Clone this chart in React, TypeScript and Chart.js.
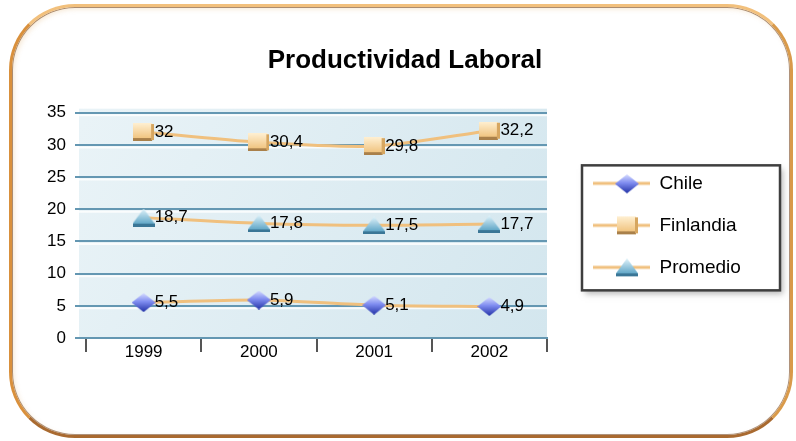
import React, { useEffect, useRef } from 'react';
import { Chart, registerables } from 'chart.js';

Chart.register(...registerables);

const years = ['1999', '2000', '2001', '2002'];
const chile = [5.5, 5.9, 5.1, 4.9];
const finlandia = [32, 30.4, 29.8, 32.2];
const promedio = [18.7, 17.8, 17.5, 17.7];
const seriesNames = ['Chile', 'Finlandia', 'Promedio'];
const chartTitle = 'Productividad Laboral';
const yMin = 0;
const yMax = 35;
const yStep = 5;

const LINE = '#f0c07e';
const GRID = '#6497b2';
const FONT = '"Liberation Sans", Arial, Helvetica, sans-serif';
const LEGEND_W = 239;

function makeCanvas(w: number, h: number) {
  const c = document.createElement('canvas');
  c.width = w;
  c.height = h;
  return c;
}

function makeDiamond() {
  const c = makeCanvas(24, 19);
  const ctx = c.getContext('2d')!;
  const g = ctx.createLinearGradient(0, 0, 0, 19);
  g.addColorStop(0, '#d6dcff');
  g.addColorStop(0.45, '#7f8cf0');
  g.addColorStop(1, '#2232a6');
  ctx.beginPath();
  ctx.moveTo(12, 0);
  ctx.lineTo(24, 9.5);
  ctx.lineTo(12, 19);
  ctx.lineTo(0, 9.5);
  ctx.closePath();
  ctx.fillStyle = g;
  ctx.fill();
  return c;
}

function makeCube() {
  const c = makeCanvas(21, 18);
  const ctx = c.getContext('2d')!;
  const g = ctx.createLinearGradient(0, 0, 0, 16);
  g.addColorStop(0, '#fff0d2');
  g.addColorStop(1, '#f0c27c');
  ctx.fillStyle = g;
  ctx.fillRect(0, 0, 19, 16);
  ctx.fillStyle = '#a9804a';
  ctx.fillRect(0, 15, 19, 3);
  ctx.fillStyle = '#d6a660';
  ctx.fillRect(18, 1, 3, 16);
  return c;
}

function makeTriangle() {
  const c = makeCanvas(22, 18);
  const ctx = c.getContext('2d')!;
  const g = ctx.createLinearGradient(0, 0, 0, 15);
  g.addColorStop(0, '#e2f4fb');
  g.addColorStop(1, '#62a8c8');
  ctx.beginPath();
  ctx.moveTo(11, 0);
  ctx.lineTo(22, 15);
  ctx.lineTo(0, 15);
  ctx.closePath();
  ctx.fillStyle = g;
  ctx.fill();
  ctx.fillStyle = '#3a7696';
  ctx.fillRect(0, 15, 22, 3);
  return c;
}

function makeLegendSample(marker: HTMLCanvasElement) {
  const c = makeCanvas(80, 22);
  const ctx = c.getContext('2d')!;
  ctx.strokeStyle = LINE;
  ctx.lineWidth = 3;
  ctx.beginPath();
  ctx.moveTo(23, 11);
  ctx.lineTo(80, 11);
  ctx.stroke();
  ctx.drawImage(marker, Math.round(57 - marker.width / 2), Math.round(11 - marker.height / 2));
  return c;
}

const fmt = (v: number) => String(v).replace('.', ',');

export default function App() {
  const ref = useRef<HTMLCanvasElement | null>(null);

  useEffect(() => {
    if (!ref.current) return;
    Chart.defaults.font.family = FONT;

    const markers = [makeDiamond(), makeCube(), makeTriangle()];
    const legendImgs = markers.map(makeLegendSample);
    const seriesData = [chile, finlandia, promedio];

    const fixLegend = {
      id: 'fixLegend',
      afterInit(chart: any) {
        const lg = chart.legend;
        if (!lg) return;
        const orig = lg.fit.bind(lg);
        lg.fit = () => {
          orig();
          lg.width = LEGEND_W;
        };
      },
    };

    const background = {
      id: 'background',
      beforeDraw(chart: any) {
        const { ctx, chartArea } = chart;
        const { left, top, right, bottom } = chartArea;
        ctx.save();
        const g = ctx.createLinearGradient(left, top, right, bottom);
        g.addColorStop(0, '#e9f3f7');
        g.addColorStop(1, '#d3e6ee');
        ctx.fillStyle = g;
        ctx.fillRect(left - 7, top - 4, right - left + 7, bottom - top + 4);
        // light highlights below gridlines
        const ys = chart.scales.y;
        ctx.strokeStyle = 'rgba(255,255,255,0.8)';
        ctx.lineWidth = 2;
        ys.ticks.forEach((t: any) => {
          const py = ys.getPixelForValue(t.value) + 2.5;
          if (py < bottom) {
            ctx.beginPath();
            ctx.moveTo(left - 7, py);
            ctx.lineTo(right, py);
            ctx.stroke();
          }
        });
        // legend frame
        const lg = chart.legend;
        if (lg) {
          const cy = (chartArea.top + chartArea.bottom) / 2;
          const bx = lg.left + 35;
          const by = cy - 60;
          const bw = lg.right - 6 - bx;
          const bh = 125;
          ctx.shadowColor = 'rgba(0,0,0,0.28)';
          ctx.shadowBlur = 6;
          ctx.shadowOffsetX = 3;
          ctx.shadowOffsetY = 4;
          ctx.fillStyle = '#ffffff';
          ctx.fillRect(bx, by, bw, bh);
          ctx.shadowColor = 'transparent';
          ctx.strokeStyle = '#3e3e3e';
          ctx.lineWidth = 2.5;
          ctx.strokeRect(bx, by, bw, bh);
        }
        ctx.restore();
      },
    };

    const dataLabels = {
      id: 'dataLabels',
      afterDatasetsDraw(chart: any) {
        const { ctx } = chart;
        ctx.save();
        ctx.font = `17px ${FONT}`;
        ctx.fillStyle = '#000';
        ctx.textAlign = 'left';
        ctx.textBaseline = 'middle';
        chart.data.datasets.forEach((ds: any, i: number) => {
          const meta = chart.getDatasetMeta(i);
          meta.data.forEach((el: any, j: number) => {
            ctx.fillText(fmt(ds.data[j]), el.x + 11, el.y);
          });
        });
        ctx.restore();
      },
    };

    const chart = new Chart(ref.current, {
      type: 'line',
      data: {
        labels: years,
        datasets: seriesNames.map((name, i) => ({
          label: name,
          data: seriesData[i],
          borderColor: LINE,
          backgroundColor: LINE,
          borderWidth: 3,
          tension: 0.25,
          pointStyle: markers[i] as any,
          pointRadius: 9,
        })),
      },
      options: {
        responsive: false,
        animation: false,
        layout: { padding: { left: 24, right: 10, top: 10, bottom: 73 } },
        plugins: {
          title: {
            display: true,
            text: chartTitle,
            color: '#000',
            font: { size: 26, weight: 'bold' },
            padding: { top: 35, bottom: 36.5 },
          },
          legend: {
            position: 'right',
            fullSize: false,
            labels: {
              usePointStyle: true,
              pointStyleWidth: 80,
              padding: 23,
              color: '#000',
              font: { size: 19 },
              generateLabels: (c: any) =>
                Chart.defaults.plugins.legend.labels
                  .generateLabels(c)
                  .map((item: any, i: number) => ({ ...item, pointStyle: legendImgs[i] })),
            },
          },
          tooltip: { enabled: false },
        },
        scales: {
          x: {
            offset: true,
            grid: {
              offset: true,
              drawOnChartArea: false,
              drawTicks: true,
              tickLength: 14,
              color: '#555',
              lineWidth: 2,
            },
            border: { display: true, color: GRID, width: 2 },
            ticks: { padding: -10, color: '#000', font: { size: 17 } },
            afterFit: (s: any) => {
              s.height = 30;
            },
          },
          y: {
            min: yMin,
            max: yMax,
            ticks: { stepSize: yStep, padding: 9, color: '#000', font: { size: 17 } },
            grid: { color: GRID, lineWidth: 2, tickLength: 11 },
            border: { display: false },
            afterFit: (s: any) => {
              s.width = 62;
            },
          },
        },
      } as any,
      plugins: [fixLegend, background, dataLabels],
    });

    return () => chart.destroy();
  }, []);

  return (
    <div style={{ position: 'absolute', left: 0, top: 0, width: 796, height: 441, background: '#fff' }}>
      <div
        style={{
          position: 'absolute',
          left: 9,
          top: 4,
          width: 784,
          height: 434,
          boxSizing: 'border-box',
          borderStyle: 'solid',
          borderWidth: 3,
          borderTopColor: '#f2c07c',
          borderRightColor: '#d99a4a',
          borderBottomColor: '#a96a30',
          borderLeftColor: '#d9903c',
          borderRadius: 66,
          boxShadow: 'inset 0 0 0 1px rgba(110,60,20,0.55), inset 2px 2px 5px rgba(220,160,80,0.25)',
        }}
      />
      <canvas
        ref={ref}
        width={796}
        height={441}
        style={{ position: 'absolute', left: 0, top: 0, width: 796, height: 441 }}
      />
    </div>
  );
}
